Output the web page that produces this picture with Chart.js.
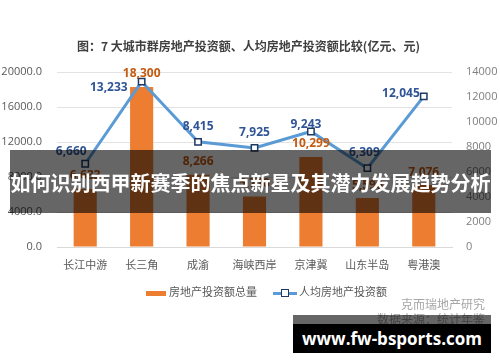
<!DOCTYPE html>
<html>
<head>
<meta charset="utf-8">
<script src="https://cdn.jsdelivr.net/npm/chart.js@4.4.1/dist/chart.umd.min.js"></script>
<style>
    body { margin: 0; background: #fff; }
    #wrap { position: relative; width: 500px; height: 362px; overflow: hidden; font-family: "Noto Sans CJK SC", sans-serif; }
    #grafico { position: absolute; left: 0; top: 0; }
    .titulo { position: absolute; left: 0; width: 497px; top: 37px; text-align: center; font-size: 12px; font-weight: bold; color: #404040; }
    .leyenda { position: absolute; top: 283px; font-size: 11px; color: #595959; white-space: nowrap; }
    .caja { display: inline-block; width: 20px; height: 5px; background: #ED7D31; vertical-align: middle; margin-right: 3px; }
    .linea { display: inline-block; position: relative; width: 24px; height: 3px; background: #5B9BD5; vertical-align: middle; margin-right: 2px; }
    .linea i { position: absolute; left: 8px; top: -3px; width: 6px; height: 6px; border: 1.5px solid #1F3864; background: #fff; }
    .marca { position: absolute; right: 15px; font-size: 12px; color: #a6a6a6; white-space: nowrap; }
    .banda { position: absolute; left: 10px; top: 150px; width: 481px; height: 63px; background: rgba(0,0,0,0.6); color: #fff; font-weight: bold; font-size: 20px; line-height: 66px; text-align: center; white-space: nowrap; }
    .pie1 { position: absolute; left: 293px; top: 315px; width: 198px; height: 9px; background: rgba(0,0,0,0.6); }
    .pie2 { position: absolute; left: 293px; top: 324px; width: 198px; height: 29px; background: #000; color: #fff; font-family: "Open Sans", sans-serif; font-weight: bold; font-size: 17px; line-height: 29px; text-align: center; white-space: nowrap; }
</style>
</head>
<body>
<div id="wrap">
    <canvas id="grafico" width="500" height="362"></canvas>
    <div class="titulo">图：7 大城市群房地产投资额、人均房地产投资额比较(亿元、元)</div>
    <div class="leyenda" style="left:146px"><span class="caja"></span>房地产投资额总量</div>
    <div class="leyenda" style="left:273px"><span class="linea"><i></i></span>人均房地产投资额</div>
    <div class="marca" style="top:295px">克而瑞地产研究</div>
    <div class="marca" style="top:310px">数据来源：统计年鉴</div>
    <div class="banda">如何识别西甲新赛季的焦点新星及其潜力发展趋势分析</div>
    <div class="pie1"></div>
    <div class="pie2">www.fw-bsports.com</div>
</div>
<script>
// Datos
const regiones = ['长江中游', '长三角', '成渝', '海峡西岸', '京津冀', '山东半岛', '粤港澳'];
const inversionTotal = [6633, 18300, 8266, 5770, 10299, 5590, 7076];
const inversionPerCapita = [6660, 13233, 8415, 7925, 9243, 6309, 12045];
const ticksIzq = [0, 4000, 8000, 12000, 16000, 20000];
const ticksDer = [0, 2000, 4000, 6000, 8000, 10000, 12000, 14000];

const colores = {
    naranja: '#ED7D31',
    naranjaTexto: '#C55A11',
    azul: '#5B9BD5',
    azulTexto: '#2F5597',
    marcador: '#1F3864',
    eje: '#595959'
};

// Etiquetas de valores (alineacion por punto)
const ajusteLinea = [
    { dx: -14, dy: -12, a: 'center' },
    { dx: -14, dy: 6, a: 'right' },
    { dx: 0, dy: -15, a: 'center' },
    { dx: 0, dy: -15, a: 'center' },
    { dx: -5, dy: -7, a: 'center' },
    { dx: -3, dy: -16, a: 'center' },
    { dx: -4, dy: -3, a: 'right' }
];

const etiquetas = {
    id: 'etiquetas',
    afterDatasetsDraw(chart) {
        const ctx = chart.ctx;
        ctx.save();
        ctx.font = 'bold 12px "Open Sans", sans-serif';
        ctx.textBaseline = 'middle';
        const barras = chart.getDatasetMeta(1);
        ctx.fillStyle = colores.naranjaTexto;
        ctx.textAlign = 'center';
        barras.data.forEach((el, i) => {
            ctx.fillText(inversionTotal[i].toLocaleString('en-US'), el.x, el.y - 13);
        });
        const linea = chart.getDatasetMeta(0);
        ctx.fillStyle = colores.azulTexto;
        linea.data.forEach((el, i) => {
            const aj = ajusteLinea[i];
            ctx.textAlign = aj.a;
            ctx.fillText(inversionPerCapita[i].toLocaleString('en-US'), el.x + aj.dx, el.y + aj.dy);
        });
        ctx.restore();
    }
};

document.addEventListener('DOMContentLoaded', function () {
    const ctxGrafico = document.getElementById('grafico');
    new Chart(ctxGrafico, {
        data: {
            labels: regiones,
            datasets: [{
                type: 'line',
                label: '人均房地产投资额',
                data: inversionPerCapita,
                yAxisID: 'y1',
                borderColor: colores.azul,
                borderWidth: 3,
                pointStyle: 'rect',
                pointRadius: 4.5,
                pointBorderWidth: 1.5,
                pointBorderColor: colores.marcador,
                pointBackgroundColor: '#fff',
                tension: 0,
                order: 0
            }, {
                type: 'bar',
                label: '房地产投资额总量',
                data: inversionTotal,
                yAxisID: 'y',
                backgroundColor: colores.naranja,
                barPercentage: 0.41,
                categoryPercentage: 1,
                order: 1
            }]
        },
        options: {
            responsive: false,
            animation: false,
            layout: { padding: { top: 72, bottom: 85, left: 0, right: 0 } },
            plugins: {
                legend: { display: false },
                tooltip: { enabled: false }
            },
            scales: {
                x: {
                    grid: { display: false, drawTicks: false },
                    border: { display: true, color: '#d9d9d9' },
                    ticks: { color: colores.eje, font: { family: '"Noto Sans CJK SC", sans-serif', size: 11 }, padding: 11 },
                    afterFit: s => { s.height = 30; }
                },
                y: {
                    position: 'left',
                    min: 0,
                    max: 20000,
                    afterBuildTicks: s => { s.ticks = ticksIzq.map(v => ({ value: v })); },
                    grid: { color: '#e3e3e3', drawTicks: false },
                    border: { display: false },
                    ticks: {
                        color: colores.eje,
                        font: { family: '"Open Sans", sans-serif', size: 11 },
                        padding: 15,
                        callback: v => Number(v).toFixed(1)
                    },
                    afterFit: s => { s.width = 57; }
                },
                y1: {
                    position: 'right',
                    min: 0,
                    max: 14000,
                    afterBuildTicks: s => { s.ticks = ticksDer.map(v => ({ value: v })); },
                    grid: { display: false, drawTicks: false },
                    border: { display: false },
                    ticks: {
                        color: '#7f7f7f',
                        font: { family: '"Open Sans", sans-serif', size: 11 },
                        padding: 14,
                        callback: v => String(v)
                    },
                    afterFit: s => { s.width = 48; }
                }
            }
        },
        plugins: [etiquetas]
    });
});
</script>
</body>
</html>
